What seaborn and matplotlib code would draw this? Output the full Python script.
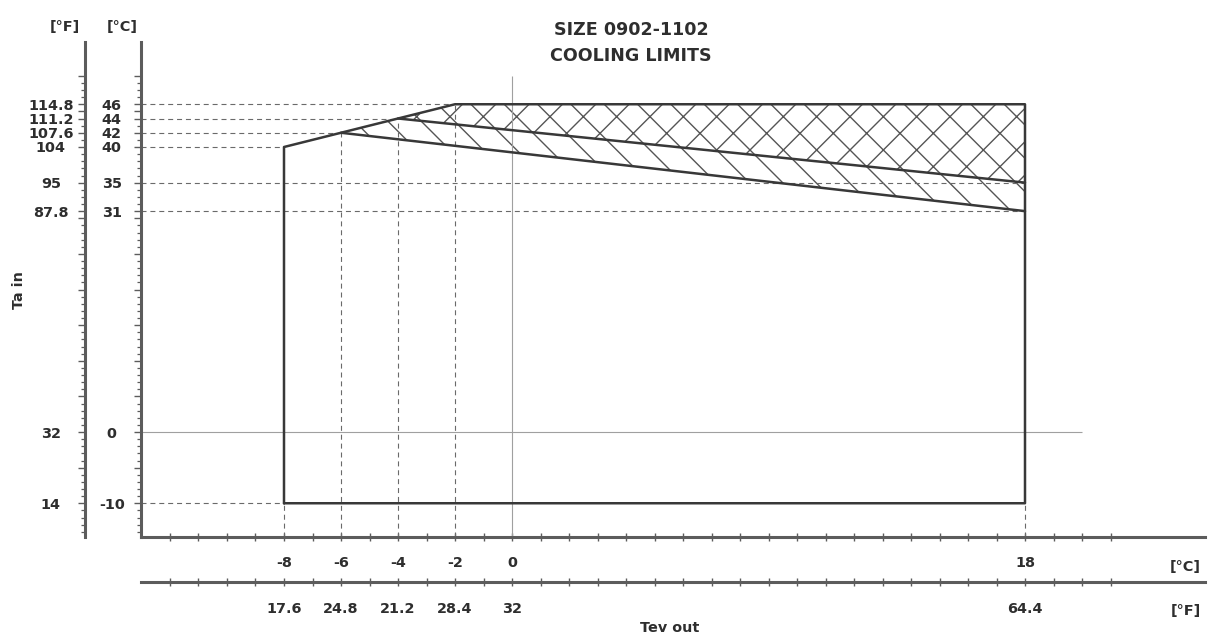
import numpy as np
import pandas as pd
import matplotlib
matplotlib.use("Agg")
import matplotlib.pyplot as plt
import seaborn as sns

# ---------------- data ----------------
env_x = [-8, -8, -6, -4, -2, 18, 18, -8]
env_y = [-10, 40, 42, 44, 46, 46, -10, -10]
upper_limit_x = [-4, 18]
upper_limit_y = [44, 35]
lower_limit_x = [-6, 18]
lower_limit_y = [42, 31]

x_ticks_c = [-8, -6, -4, -2, 0, 18]
x_labels_c = ["-8", "-6", "-4", "-2", "0", "18"]
x_labels_f = ["17.6", "24.8", "21.2", "28.4", "32", "64.4"]
y_ticks_c = [46, 44, 42, 40, 35, 31, 0, -10]
y_labels_c = ["46", "44", "42", "40", "35", "31", "0", "-10"]
y_labels_f = ["114.8", "111.2", "107.6", "104", "95", "87.8", "32", "14"]

guide_h_y = [46, 44, 42, 40, 35, 31, -10]
guide_h_end = [-2, -4, -6, -8, 18, 18, -8]
guide_v_x = [-8, -6, -4, -2, 18]
guide_v_top = [-10, 42, 44, 46, -10]
zero_v_top = 50
zero_h_end = 20

# ---------------- style ----------------
W, H, DPI = 1208, 641, 200
sns.set_theme(style="white")
plt.rcParams["font.family"] = ["DejaVu Sans"]
plt.rcParams["font.weight"] = "bold"
plt.rcParams["hatch.linewidth"] = 0.5
TXT = "#2e2e2e"
SPINE = "#5c5c5c"
LINE = "#383838"

def fx(px):
    return px / W

def fy(py):
    return 1 - py / H

fig = plt.figure(figsize=(W / DPI, H / DPI), dpi=DPI)
fig.patch.set_facecolor("white")
L, R, T, B = 141, 1205, 42, 537
ax = fig.add_axes([fx(L), fy(B), fx(R) - fx(L), fy(T) - fy(B)])
ax.set_facecolor("white")
xlim = ((L - 512) / 28.5, (R - 512) / 28.5)
ylim = ((432 - B) / 7.125, (432 - T) / 7.125)

# hatched zones
cross_x = env_x[3:6] + upper_limit_x[::-1]
cross_y = env_y[3:6] + upper_limit_y[::-1]
single_x = env_x[2:4] + upper_limit_x[1:] + lower_limit_x[::-1]
single_y = env_y[2:4] + upper_limit_y[1:] + lower_limit_y[::-1]
ax.fill(cross_x, cross_y, facecolor="none", edgecolor="#555555", hatch="xx", linewidth=0)
ax.fill(single_x, single_y, facecolor="none", edgecolor="#555555", hatch="\\\\", linewidth=0)

# guide lines
dash = (0, (4.5, 3.5))
ax.hlines(guide_h_y, xlim[0], guide_h_end, colors="#6a6a6a", linewidth=0.4, linestyles=[dash])
ax.vlines(guide_v_x, ylim[0], guide_v_top, colors="#6a6a6a", linewidth=0.4, linestyles=[dash])
ax.vlines([0], ylim[0], zero_v_top, colors="#a0a0a0", linewidth=0.4)
ax.hlines([0], xlim[0], zero_h_end, colors="#a0a0a0", linewidth=0.4)

# envelope lines
sns.lineplot(x=env_x, y=env_y, sort=False, estimator=None, ax=ax, color=LINE, linewidth=0.9)
sns.lineplot(x=upper_limit_x, y=upper_limit_y, sort=False, estimator=None, ax=ax, color=LINE, linewidth=0.9)
sns.lineplot(x=lower_limit_x, y=lower_limit_y, sort=False, estimator=None, ax=ax, color=LINE, linewidth=0.9)

ax.set_xlim(*xlim)
ax.set_ylim(*ylim)
ax.set_xlabel("")
ax.set_ylabel("")
for s in ["top", "right"]:
    ax.spines[s].set_visible(False)
for s in ["left", "bottom"]:
    ax.spines[s].set_color(SPINE)
    ax.spines[s].set_linewidth(1.1)

FS = 5.2
minor_x = np.arange(-12, 22)
y_major = sorted(set(y_ticks_c) | set(range(-10, 51, 5)))
lab_c = {v: l for v, l in zip(y_ticks_c, y_labels_c)}
lab_f = {v: l for v, l in zip(y_ticks_c, y_labels_f)}
minor_y = np.arange(-14, 51)

# x axis (C)
ax.set_xticks(x_ticks_c, x_labels_c)
ax.set_xticks(minor_x, minor=True)
ax.tick_params(axis="x", which="both", direction="inout", length=3.0, width=0.5,
               color=SPINE, labelsize=FS, labelcolor=TXT, pad=5.3, bottom=True)

# y axis (C)
ax.set_yticks(y_major, [lab_c.get(v, "") for v in y_major])
ax.set_yticks(minor_y, minor=True)
ax.tick_params(axis="y", which="major", direction="out", length=2.4, width=0.5,
               color=SPINE, labelsize=FS, labelcolor=TXT, pad=8.1, left=True)
ax.tick_params(axis="y", which="minor", direction="out", length=1.6, width=0.45,
               color=SPINE, left=True)
for t in ax.get_yticklabels():
    t.set_horizontalalignment("center")

# secondary x axis (F)
ident = (lambda v: v, lambda v: v)
secx = ax.secondary_xaxis((B - 582) / (B - T), functions=ident)
secx.set_xticks(x_ticks_c, x_labels_f)
secx.set_xticks(minor_x, minor=True)
secx.tick_params(axis="x", which="both", direction="inout", length=3.0, width=0.5,
                 color=SPINE, labelsize=FS, labelcolor=TXT, pad=5.8)
secx.spines["bottom"].set_color(SPINE)
secx.spines["bottom"].set_linewidth(1.1)

# secondary y axis (F)
secy = ax.secondary_yaxis((85 - L) / (R - L), functions=ident)
secy.set_yticks(y_major, [lab_f.get(v, "") for v in y_major])
secy.set_yticks(minor_y, minor=True)
secy.tick_params(axis="y", which="major", direction="out", length=2.4, width=0.5,
                 color=SPINE, labelsize=FS, labelcolor=TXT, pad=9.9)
secy.tick_params(axis="y", which="minor", direction="out", length=1.6, width=0.45, color=SPINE)
for t in secy.get_yticklabels():
    t.set_horizontalalignment("center")
secy.spines["left"].set_color(SPINE)
secy.spines["left"].set_linewidth(1.1)

# texts
kw = dict(ha="center", va="center", fontsize=FS, color=TXT, fontweight="bold")
fig.text(fx(65), fy(27), "[°F]", **kw)
fig.text(fx(122), fy(27), "[°C]", **kw)
fig.text(fx(1185), fy(567), "[°C]", **kw)
fig.text(fx(1186), fy(611), "[°F]", **kw)
fig.text(fx(19), fy(290), "Ta in", rotation=90, **kw)
fig.text(fx(670), fy(628), "Tev out", **kw)
fig.text(fx(631), fy(30), "SIZE 0902-1102", ha="center", va="center", fontsize=6.3,
         color=TXT, fontweight="bold")
fig.text(fx(631), fy(56), "COOLING LIMITS", ha="center", va="center", fontsize=6.3,
         color=TXT, fontweight="bold")

fig.savefig("out.png", dpi=DPI, facecolor="white")
